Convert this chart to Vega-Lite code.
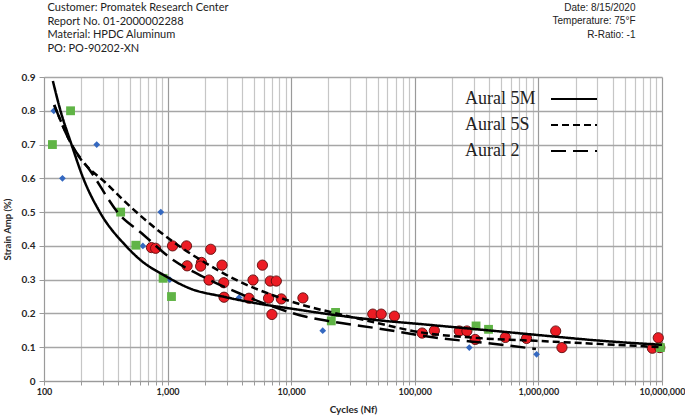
{
  "$schema": "https://vega.github.io/schema/vega-lite/v6.json",
  "width": 618,
  "height": 304,
  "autosize": {"type": "none"},
  "padding": {"left": 44, "top": 77, "right": 23, "bottom": 36},
  "background": "white",
  "config": {"view": {"stroke": null}},
  "datasets": {
    "curves": [
      {"series": "Aural 5M", "N": 118, "v": 0.888},
      {"series": "Aural 5M", "N": 136, "v": 0.8},
      {"series": "Aural 5M", "N": 167, "v": 0.7},
      {"series": "Aural 5M", "N": 208, "v": 0.6},
      {"series": "Aural 5M", "N": 283, "v": 0.5},
      {"series": "Aural 5M", "N": 460, "v": 0.4},
      {"series": "Aural 5M", "N": 595, "v": 0.36},
      {"series": "Aural 5M", "N": 980, "v": 0.309},
      {"series": "Aural 5M", "N": 1515, "v": 0.274},
      {"series": "Aural 5M", "N": 2800, "v": 0.25},
      {"series": "Aural 5M", "N": 5240, "v": 0.23},
      {"series": "Aural 5M", "N": 9700, "v": 0.215},
      {"series": "Aural 5M", "N": 20000, "v": 0.198},
      {"series": "Aural 5M", "N": 50000, "v": 0.18},
      {"series": "Aural 5M", "N": 108000, "v": 0.169},
      {"series": "Aural 5M", "N": 480000, "v": 0.147},
      {"series": "Aural 5M", "N": 1000000, "v": 0.136},
      {"series": "Aural 5M", "N": 3000000, "v": 0.12},
      {"series": "Aural 5M", "N": 10000000, "v": 0.107},
      {"series": "Aural 5S", "N": 121, "v": 0.817},
      {"series": "Aural 5S", "N": 167, "v": 0.7},
      {"series": "Aural 5S", "N": 341, "v": 0.575},
      {"series": "Aural 5S", "N": 596, "v": 0.491},
      {"series": "Aural 5S", "N": 1110, "v": 0.412},
      {"series": "Aural 5S", "N": 2060, "v": 0.348},
      {"series": "Aural 5S", "N": 3830, "v": 0.294},
      {"series": "Aural 5S", "N": 7110, "v": 0.254},
      {"series": "Aural 5S", "N": 13200, "v": 0.222},
      {"series": "Aural 5S", "N": 20400, "v": 0.205},
      {"series": "Aural 5S", "N": 51800, "v": 0.17},
      {"series": "Aural 5S", "N": 108000, "v": 0.145},
      {"series": "Aural 5S", "N": 330000, "v": 0.127},
      {"series": "Aural 5S", "N": 955000, "v": 0.119},
      {"series": "Aural 5S", "N": 10000000, "v": 0.1},
      {"series": "Aural 2", "N": 121, "v": 0.817},
      {"series": "Aural 2", "N": 167, "v": 0.7},
      {"series": "Aural 2", "N": 235, "v": 0.624},
      {"series": "Aural 2", "N": 424, "v": 0.486},
      {"series": "Aural 2", "N": 596, "v": 0.442},
      {"series": "Aural 2", "N": 1110, "v": 0.358},
      {"series": "Aural 2", "N": 2060, "v": 0.304},
      {"series": "Aural 2", "N": 3830, "v": 0.259},
      {"series": "Aural 2", "N": 7110, "v": 0.22},
      {"series": "Aural 2", "N": 13200, "v": 0.19},
      {"series": "Aural 2", "N": 20400, "v": 0.177},
      {"series": "Aural 2", "N": 51800, "v": 0.155},
      {"series": "Aural 2", "N": 131000, "v": 0.131},
      {"series": "Aural 2", "N": 483000, "v": 0.108},
      {"series": "Aural 2", "N": 955000, "v": 0.095}
    ],
    "red": [
      {"N": 740, "v": 0.395}, {"N": 800, "v": 0.393}, {"N": 1097, "v": 0.4}, {"N": 1422, "v": 0.4},
      {"N": 2234, "v": 0.39}, {"N": 1438, "v": 0.341}, {"N": 1880, "v": 0.351}, {"N": 1850, "v": 0.34},
      {"N": 2756, "v": 0.343}, {"N": 5850, "v": 0.343}, {"N": 2163, "v": 0.299}, {"N": 2845, "v": 0.291},
      {"N": 4910, "v": 0.299}, {"N": 6770, "v": 0.296}, {"N": 7580, "v": 0.296}, {"N": 2860, "v": 0.248},
      {"N": 4550, "v": 0.245}, {"N": 6560, "v": 0.245}, {"N": 8315, "v": 0.243}, {"N": 12440, "v": 0.246},
      {"N": 6980, "v": 0.197}, {"N": 45700, "v": 0.198}, {"N": 53500, "v": 0.198}, {"N": 68400, "v": 0.192},
      {"N": 114600, "v": 0.142}, {"N": 144000, "v": 0.149}, {"N": 229000, "v": 0.148}, {"N": 264000, "v": 0.148},
      {"N": 308000, "v": 0.123}, {"N": 540000, "v": 0.129}, {"N": 802000, "v": 0.126}, {"N": 1380000, "v": 0.148},
      {"N": 1550000, "v": 0.099}, {"N": 8360000, "v": 0.097}, {"N": 9600000, "v": 0.099}, {"N": 9330000, "v": 0.128}
    ],
    "blue": [
      {"N": 120, "v": 0.8}, {"N": 141, "v": 0.6}, {"N": 267, "v": 0.7}, {"N": 881, "v": 0.5},
      {"N": 631, "v": 0.4}, {"N": 1042, "v": 0.3}, {"N": 3786, "v": 0.247}, {"N": 18000, "v": 0.149},
      {"N": 276000, "v": 0.099}, {"N": 967000, "v": 0.079}
    ],
    "green": [
      {"N": 117, "v": 0.7}, {"N": 164, "v": 0.8}, {"N": 417, "v": 0.5}, {"N": 553, "v": 0.402},
      {"N": 920, "v": 0.304}, {"N": 1075, "v": 0.25}, {"N": 22850, "v": 0.203}, {"N": 21100, "v": 0.178},
      {"N": 313000, "v": 0.163}, {"N": 395000, "v": 0.153}, {"N": 9700000, "v": 0.099}
    ]
  },
  "layer": [
    {
      "data": {"name": "red"},
      "mark": {"type": "point", "shape": "circle", "filled": true, "fill": "#ec1c24", "stroke": "#5e0d0d", "strokeWidth": 0.9, "size": 105, "opacity": 1},
      "encoding": {
        "x": {"field": "N", "type": "quantitative", "scale": {"type": "log", "domain": [100, 10000000], "nice": false},
          "axis": {"orient": "top", "labels": false, "ticks": false, "domain": false, "grid": false,
            "title": ["Customer:  Promatek Research  Center", "Report No. 01-2000002288", "Material: HPDC Aluminum", "PO: PO-90202-XN"],
            "titleFont": "Lato", "titleFontSize": 11, "titleFontWeight": "normal", "titleColor": "#222222",
            "titleAnchor": "start", "titleAlign": "left", "titleBaseline": "top", "titleX": 3, "titleY": -75.5, "titleLineHeight": 13.7}},
        "y": {"field": "v", "type": "quantitative", "scale": {"domain": [0, 0.9], "nice": false, "zero": false},
          "axis": {"orient": "right", "labels": false, "ticks": false, "domain": false, "grid": false,
            "title": ["Date: 8/15/2020", "Temperature:  75°F", "R-Ratio:  -1"],
            "titleFont": "Liberation Sans", "titleFontSize": 10, "titleFontWeight": "normal", "titleColor": "#222222",
            "titleAngle": 0, "titleAlign": "right", "titleBaseline": "top", "titleX": -27, "titleY": -75, "titleLineHeight": 13.5}}
      }
    },
    {
      "data": {"name": "blue"},
      "mark": {"type": "point", "shape": "diamond", "filled": true, "color": "#3468c0", "size": 45, "opacity": 1},
      "encoding": {
        "x": {"field": "N", "type": "quantitative", "scale": {"type": "log", "domain": [100, 10000000], "nice": false}, "axis": null},
        "y": {"field": "v", "type": "quantitative", "scale": {"domain": [0, 0.9], "nice": false, "zero": false}, "axis": null}
      }
    },
    {
      "data": {"name": "green"},
      "mark": {"type": "square", "color": "#60b446", "size": 78, "opacity": 1},
      "encoding": {
        "x": {"field": "N", "type": "quantitative", "scale": {"type": "log", "domain": [100, 10000000], "nice": false}, "axis": null},
        "y": {"field": "v", "type": "quantitative", "scale": {"domain": [0, 0.9], "nice": false, "zero": false}, "axis": null}
      }
    },
    {
      "data": {"name": "curves"},
      "mark": {"type": "line", "color": "black", "strokeWidth": 2.5, "interpolate": "monotone"},
      "encoding": {
        "x": {"field": "N", "type": "quantitative", "scale": {"type": "log", "domain": [100, 10000000], "nice": false},
          "axis": {
            "orient": "bottom",
            "values": [100,200,300,400,500,600,700,800,900,1000,2000,3000,4000,5000,6000,7000,8000,9000,10000,20000,30000,40000,50000,60000,70000,80000,90000,100000,200000,300000,400000,500000,600000,700000,800000,900000,1000000,2000000,3000000,4000000,5000000,6000000,7000000,8000000,9000000,10000000],
            "labelExpr": "datum.value == pow(10, round(log(datum.value)/LN10)) ? format(datum.value, ',') : ''",
            "labelOverlap": false, "labelFlush": false,
            "grid": true,
            "gridColor": {"condition": {"test": "datum.value == pow(10, round(log(datum.value)/LN10))", "value": "#9a9a9a"}, "value": "#c6c6c6"},
            "gridWidth": 1.2,
            "domainColor": "#9a9a9a", "tickColor": "#9a9a9a", "tickSize": 4,
            "labelFont": "Lato", "labelFontWeight": "bold", "labelFontSize": 9, "labelColor": "#262626", "labelPadding": 2,
            "title": "Cycles (Nf)", "titleFont": "Lato", "titleFontSize": 10, "titleFontWeight": "bold", "titleColor": "#262626",
            "titleX": 309, "titleY": 28, "titleBaseline": "middle"
          }},
        "y": {"field": "v", "type": "quantitative", "scale": {"domain": [0, 0.9], "nice": false, "zero": false},
          "axis": {
            "orient": "left",
            "values": [0, 0.1, 0.2, 0.3, 0.4, 0.5, 0.6, 0.7, 0.8, 0.9],
            "format": ".1~f",
            "grid": true, "gridColor": "#a6a6a6", "gridWidth": 1.3,
            "domainColor": "#9a9a9a", "tickColor": "#9a9a9a", "tickSize": 5,
            "labelFont": "Lato", "labelFontWeight": "bold", "labelFontSize": 10, "labelColor": "#262626", "labelPadding": 4,
            "title": "Strain Amp (%)", "titleFont": "Lato", "titleFontSize": 9.5, "titleFontWeight": "bold", "titleColor": "#262626",
            "titlePadding": 9
          }},
        "strokeDash": {"field": "series", "type": "nominal",
          "scale": {"domain": ["Aural 5M", "Aural 5S", "Aural 2"], "range": [[1, 0], [7, 4], [15, 7]]},
          "legend": {"orient": "none", "legendX": 517.5, "legendY": 9.5, "title": null, "padding": 0,
            "symbolType": "M-2,0H2", "symbolSize": 529, "symbolStrokeWidth": 2, "symbolStrokeColor": "black", "symbolFillColor": "transparent",
            "rowPadding": 4,
            "labelFont": "Liberation Serif", "labelFontSize": 18, "labelColor": "#222222",
            "labelAlign": "left", "labelOffset": -121.5, "labelBaseline": "middle"}}
      }
    }
  ],
  "resolve": {"axis": {"x": "independent", "y": "independent"}}
}
